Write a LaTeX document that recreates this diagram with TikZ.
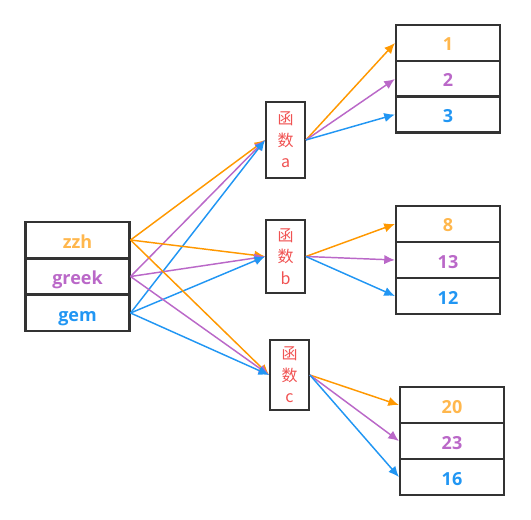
\documentclass[tikz,border=0pt]{standalone}
\usepackage{fontspec}
\setmainfont{Open Sans}
\newfontfamily\cjk{Noto Sans CJK SC}
\usetikzlibrary{arrows.meta}
\definecolor{orangeline}{HTML}{FF9800}
\definecolor{orangetext}{HTML}{FFB74D}
\definecolor{purpleline}{HTML}{BA68C8}
\definecolor{blueline}{HTML}{2196F3}
\definecolor{functext}{HTML}{F05252}
\definecolor{boxline}{HTML}{333333}
\tikzset{
  cell/.style={draw=boxline,line width=1.6pt,minimum width=78pt,minimum height=27pt,
    inner sep=0pt,text depth=0pt,text height=12pt,font=\bfseries\fontsize{13.5}{15}\selectfont},
  func/.style={draw=boxline,line width=1.6pt,minimum width=29pt,minimum height=55pt,
    inner sep=0pt,align=center,text=functext,font=\cjk\fontsize{12}{16}\selectfont},
  link/.style={line width=1.1pt,-{Latex[length=8pt,width=7pt]}}
}
\begin{document}
\begin{tikzpicture}[x=0.75pt,y=-0.75pt]
		\useasboundingbox (0,0) rectangle (531,520);
		% left table
		\node[cell,text=orangetext] (zzh) at (77.5,240) {zzh};
		\node[cell,text=purpleline] (greek) at (77.5,276.5) {greek};
		\node[cell,text=blueline] (gem) at (77.5,313) {gem};
		% functions
		\node[func,minimum height=57pt] (fa) at (285.5,140) {函\\数\\a};
		\node[func] (fb) at (285.5,256.5) {函\\数\\b};
		\node[func,minimum height=53pt] (fc) at (289.5,375) {函\\数\\c};
		% right tables
		\node[cell,text=orangetext] (a1) at (448,43) {1};
		\node[cell,text=purpleline] (a2) at (448,79) {2};
		\node[cell,text=blueline] (a3) at (448,114.5) {3};
		\node[cell,text=orangetext] (b1) at (448,224) {8};
		\node[cell,text=purpleline] (b2) at (448,260) {13};
		\node[cell,text=blueline] (b3) at (448,296) {12};
		\node[cell,text=orangetext] (c1) at (452,405) {20};
		\node[cell,text=purpleline] (c2) at (452,441) {23};
		\node[cell,text=blueline] (c3) at (452,477) {16};
		% inputs
		\foreach \f in {fa,fb,fc} {
			\draw[link,orangeline] (zzh.east) -- (\f.west);
			\draw[link,purpleline] (greek.east) -- (\f.west);
			\draw[link,blueline] (gem.east) -- (\f.west);
		}
		% outputs
		\foreach \f/\t in {fa/a,fb/b,fc/c} {
			\draw[link,orangeline] (\f.east) -- (\t1.west);
			\draw[link,purpleline] (\f.east) -- (\t2.west);
			\draw[link,blueline] (\f.east) -- (\t3.west);
		}
	\end{tikzpicture}
\end{document}
